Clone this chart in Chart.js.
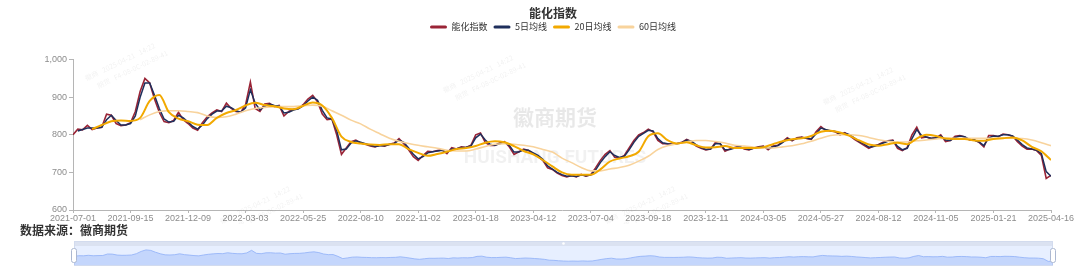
<!DOCTYPE html>
<html>
<head>
<meta charset="utf-8">
<script src="https://cdn.jsdelivr.net/npm/chart.js@4.4.1/dist/chart.umd.min.js"></script>
<style>
body { margin: 0; background: #fff; width: 1080px; height: 276px; overflow: hidden; position: relative; }
#mainBox { position: absolute; left: 0; top: 0; width: 1106px; height: 224px; }
#source { position: absolute; left: 20px; top: 222px; font-family: "Noto Sans CJK SC", sans-serif; font-size: 12px; font-weight: bold; color: #333; line-height: 15px; }
#sliderBox { position: absolute; left: 68px; top: 238px; width: 991px; height: 30px; }
</style>
</head>
<body>
<div id="mainBox"><canvas id="chartMain"></canvas></div>
<div id="source">数据来源：徽商期货</div>
<div id="sliderBox"><canvas id="chartSlider"></canvas></div>
<script>
var tickLabels = ['2021-07-01','2021-09-15','2021-12-09','2022-03-03','2022-05-25','2022-08-10','2022-11-02','2023-01-18','2023-04-12',
    '2023-07-04','2023-09-18','2023-12-11','2024-03-05','2024-05-27','2024-08-12','2024-11-05','2025-01-21','2025-04-16'];
var PER = 12; // puntos por intervalo de etiqueta

var zhishu = [
    800, 815, 813, 825, 814, 818, 820, 855, 852, 830, 824, 826,
    832, 862, 915, 950, 938, 895, 860, 835, 832, 838, 860, 840,
    830, 818, 812, 832, 848, 858, 866, 862, 884, 870, 862, 860,
    880, 940, 870, 862, 882, 884, 875, 878, 850, 862, 868, 870,
    880, 895, 905, 888, 855, 840, 842, 800, 748, 765, 782, 786,
    778, 775, 770, 768, 772, 770, 775, 778, 790, 776, 760, 742,
    732, 745, 756, 755, 758, 760, 750, 766, 762, 768, 766, 772,
    800, 805, 780, 772, 772, 778, 782, 768, 748, 755, 762, 758,
    750, 742, 732, 712, 708, 698, 692, 688, 692, 688, 695, 690,
    694, 712, 732, 748, 758, 740, 738, 745, 765, 785, 800, 806,
    815, 808, 785, 776, 776, 775, 777, 780, 788, 782, 770, 764,
    760, 762, 780, 776, 756, 762, 766, 770, 762, 760, 765, 768,
    770, 760, 770, 772, 782, 792, 784, 792, 794, 790, 788, 808,
    822, 812, 810, 808, 800, 806, 798, 788, 780, 772, 764, 770,
    774, 780, 784, 786, 764, 758, 766, 800, 820, 792, 794, 790,
    792, 800, 782, 785, 796, 798, 794, 786, 786, 780, 768, 798,
    798, 795, 802, 800, 796, 782, 770, 762, 762, 758, 745, 684, 692
];
var ma5 = [
    null, 810, 814, 818, 818, 818, 820, 840, 852, 838, 826, 826,
    830, 850, 900, 938, 938, 905, 870, 842, 834, 836, 852, 845,
    834, 822, 815, 826, 843, 855, 863, 863, 876, 872, 864, 860,
    872, 920, 884, 866, 876, 882, 878, 877, 858, 860, 866, 869,
    877, 890, 900, 892, 865, 845, 842, 812, 760, 762, 778, 784,
    780, 776, 772, 769, 771, 771, 774, 777, 786, 780, 765, 748,
    736, 742, 752, 755, 757, 759, 753, 762, 763, 766, 767, 770,
    792, 802, 786, 775, 772, 776, 780, 772, 754, 754, 760, 759,
    752, 745, 735, 717, 709, 700, 694, 690, 691, 689, 693, 691,
    693, 706, 726, 742, 755, 745, 740, 743, 760, 780, 796, 804,
    812, 810, 790, 779, 776, 775, 776, 779, 786, 783, 773, 766,
    761, 762, 776, 777, 760, 761, 765, 769, 764, 761, 764, 767,
    769, 763, 768, 771, 779, 789, 786, 790, 793, 791, 789, 803,
    818, 814, 811, 809, 802, 804, 800, 791, 782, 775, 767, 769,
    773, 778, 783, 785, 769, 760, 764, 790, 814, 798, 794, 791,
    792, 797, 786, 785, 793, 797, 795, 788, 786, 781, 771, 792,
    797, 796, 800, 800, 797, 786, 774, 765, 762, 759, 750, 702, 690
];
// medias de 20 y 60 dias: un valor cada 2 puntos
var ma20 = [
    null, null, 815, 826, 836, 838, 837, 845, 890, 906, 860, 843,
    836, 827, 826, 845, 858, 866, 878, 885, 879, 876, 870, 868,
    877, 886, 878, 845, 795, 781, 777, 774, 773, 775, 775, 762,
    752, 744, 749, 755, 762, 765, 770, 779, 783, 780, 770, 757,
    748, 733, 716, 700, 694, 694, 694, 708, 729, 737, 743, 755,
    796, 804, 786, 777, 780, 772, 766, 767, 770, 765, 765, 765,
    767, 775, 783, 788, 791, 797, 808, 811, 806, 797, 785, 774,
    771, 775, 779, 775, 790, 800, 797, 790, 789, 789, 785, 784,
    789, 791, 793, 785, 768, 756, 733
];
var ma60 = [
    null, null, null, null, null, null, null, 840, 853, 862, 864, 864,
    862, 859, 850, 846, 848, 855, 864, 870, 873, 875, 875, 875,
    877, 879, 876, 864, 852, 839, 829, 815, 803, 791, 783, 777,
    772, 768, 764, 759, 757, 757, 762, 769, 775, 776, 775, 772,
    768, 761, 754, 738, 726, 713, 704, 704, 709, 713, 719, 730,
    743, 761, 771, 776, 781, 785, 785, 782, 778, 772, 770, 767,
    765, 765, 768, 771, 776, 783, 791, 798, 800, 800, 798, 793,
    787, 783, 781, 781, 784, 786, 789, 791, 791, 791, 791, 791,
    791, 791, 791, 790, 786, 779, 771
];

var xMax = (tickLabels.length - 1) * PER;

function toPoints(arr, step) {
    var pts = [];
    for (var i = 0; i < arr.length; i++) { pts.push({ x: i * step, y: arr[i] }); }
    return pts;
}

Chart.defaults.font.family = "'Liberation Sans', 'Noto Sans CJK SC', sans-serif";
Chart.defaults.animation = false;

var marcaAgua = {
    id: 'marcaAgua',
    beforeDatasetsDraw: function (chart) {
        var ctx = chart.ctx;
        ctx.save();
        ctx.textAlign = 'center';
        ctx.textBaseline = 'middle';
        ctx.fillStyle = 'rgba(0,0,0,0.09)';
        ctx.font = 'bold 21px "Noto Sans CJK SC"';
        ctx.fillText('徽商期货', 555, 117);
        ctx.fillStyle = 'rgba(0,0,0,0.055)';
        ctx.font = 'bold 19px Roboto';
        ctx.fillText('HUISHANG FUTURES', 555, 158);
        ctx.font = '7px "Noto Sans CJK SC"';
        ctx.fillStyle = 'rgba(0,0,0,0.06)';
        [[120, 62], [478, 74], [858, 86], [255, 205], [640, 205]].forEach(function (p) {
            ctx.save();
            ctx.translate(p[0], p[1]);
            ctx.rotate(-0.45);
            ctx.fillText('徽商   2025-04-21   14:22', 0, 0);
            ctx.fillText('期货   F4-08-0C-02-89-41', 8, 12);
            ctx.restore();
        });
        ctx.restore();
    }
};

new Chart(document.getElementById('chartMain'), {
    type: 'line',
    data: {
        datasets: [
            { label: '能化指数', data: toPoints(zhishu, 1), borderColor: '#9a2436', backgroundColor: '#9a2436', borderWidth: 1.6, pointRadius: 0, order: 4 },
            { label: '5日均线', data: toPoints(ma5, 1), borderColor: '#1f2f5c', backgroundColor: '#1f2f5c', borderWidth: 1.5, pointRadius: 0, order: 3 },
            { label: '20日均线', data: toPoints(ma20, 2), borderColor: '#f2a900', backgroundColor: '#f2a900', borderWidth: 2, pointRadius: 0, cubicInterpolationMode: 'monotone', order: 1 },
            { label: '60日均线', data: toPoints(ma60, 2), borderColor: '#f8d39c', backgroundColor: '#f8d39c', borderWidth: 1.6, pointRadius: 0, cubicInterpolationMode: 'monotone', order: 2 }
        ]
    },
    options: {
        responsive: true,
        maintainAspectRatio: false,
        events: [],
        layout: { padding: 0 },
        plugins: {
            title: { display: true, text: '能化指数', color: '#333', font: { size: 12, weight: 'bold', family: "'Noto Sans CJK SC'" }, padding: { top: 6, bottom: -4 } },
            subtitle: { display: true, text: '', weight: 500, font: { size: 1 }, padding: { top: 17, bottom: 0 } },
            legend: {
                labels: {
                    boxWidth: 17, boxHeight: 3, padding: 6, color: '#333',
                    useBorderRadius: true, borderRadius: 1.5,
                    font: { size: 9, family: "'Noto Sans CJK SC'" },
                    sort: function (a, b) { return a.datasetIndex - b.datasetIndex; },
                    generateLabels: function (chart) {
                        var items = Chart.defaults.plugins.legend.labels.generateLabels(chart);
                        items.forEach(function (it) { it.fillStyle = it.strokeStyle; it.lineWidth = 0; });
                        return items;
                    }
                }
            },
            tooltip: { enabled: false }
        },
        scales: {
            x: {
                type: 'linear', min: 0, max: xMax,
                ticks: { stepSize: PER, autoSkip: false, maxRotation: 0, color: '#8c8c8c', font: { size: 9 }, padding: 0,
                    callback: function (v) { return tickLabels[Math.round(v / PER)]; } },
                grid: { drawOnChartArea: false, tickLength: 3, color: '#b5b5b5' },
                border: { color: '#b5b5b5' },
                afterFit: function (s) { s.height = 14; }
            },
            y: {
                min: 600, max: 1000,
                ticks: { stepSize: 100, color: '#8c8c8c', font: { size: 9 }, padding: 2 },
                grid: { drawOnChartArea: false, tickLength: 4, color: '#b5b5b5' },
                border: { color: '#b5b5b5' },
                afterFit: function (s) { s.width = 73; }
            },
            // eje vacio a la derecha para centrar titulo y leyenda
            yDer: {
                position: 'right', min: 600, max: 1000,
                ticks: { display: false }, grid: { display: false }, border: { display: false },
                afterFit: function (s) { s.width = 55; }
            }
        }
    },
    plugins: [marcaAgua]
});

var marcoSlider = {
    id: 'marcoSlider',
    beforeDraw: function (chart) {
        var ctx = chart.ctx, a = chart.chartArea;
        ctx.save();
        ctx.fillStyle = 'rgba(135,175,255,0.2)';
        ctx.fillRect(a.left, a.top, a.width, a.height);
        ctx.fillStyle = 'rgba(210,219,238,0.8)';
        ctx.fillRect(a.left, a.top - 5, a.width, 5);
        ctx.strokeStyle = '#d2dbee';
        ctx.lineWidth = 1;
        ctx.strokeRect(a.left + 0.5, a.top - 4.5, a.width - 1, a.height + 5);
        ctx.restore();
    },
    afterDraw: function (chart) {
        var ctx = chart.ctx, a = chart.chartArea;
        ctx.save();
        ctx.fillStyle = '#fff';
        ctx.strokeStyle = '#acb8d1';
        ctx.lineWidth = 1;
        [a.left, a.right].forEach(function (x) {
            ctx.beginPath();
            if (ctx.roundRect) { ctx.roundRect(x - 2.5, a.top + 2.5, 5, a.height - 5, 2); } else { ctx.rect(x - 2.5, a.top + 2.5, 5, a.height - 5); }
            ctx.fill();
            ctx.stroke();
        });
        ctx.beginPath();
        ctx.arc((a.left + a.right) / 2, a.top - 2.5, 1.3, 0, Math.PI * 2);
        ctx.fill();
        ctx.restore();
    }
};

new Chart(document.getElementById('chartSlider'), {
    type: 'line',
    data: {
        datasets: [{ data: toPoints(zhishu, 1), borderColor: '#8fb0f7', borderWidth: 0.8, backgroundColor: 'rgba(143,176,247,0.4)', fill: 'start', pointRadius: 0 }]
    },
    options: {
        responsive: true,
        maintainAspectRatio: false,
        events: [],
        layout: { padding: { left: 6, right: 6, top: 8, bottom: 3 } },
        plugins: { legend: { display: false }, tooltip: { enabled: false } },
        scales: {
            x: { type: 'linear', display: false, min: 0, max: xMax },
            y: { display: false, min: 600, max: 1040 }
        }
    },
    plugins: [marcoSlider]
});
</script>
</body>
</html>
